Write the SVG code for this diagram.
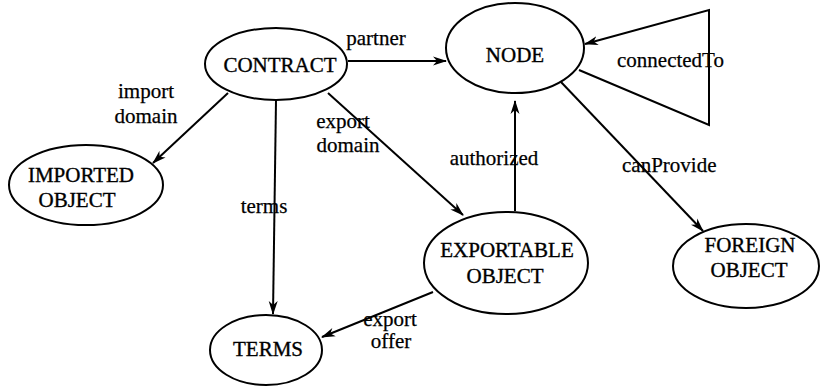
<svg xmlns="http://www.w3.org/2000/svg" width="822" height="386" viewBox="0 0 822 386">
  <style>
    text { font-family: 'Liberation Serif', 'DejaVu Serif', serif; font-size: 21px; fill: #000; stroke: #000; }
    .node ellipse { fill: #fff; stroke: #000; stroke-width: 2; }
    .node text { text-anchor: middle; stroke-width: 0.35; }
    .edge { fill: none; stroke: #000; stroke-width: 2; }
    .label { stroke-width: 0.25; }
  </style>
  <defs>
    <marker id="arrow" viewBox="0 0 14 10" refX="13" refY="5" markerWidth="14" markerHeight="10" markerUnits="userSpaceOnUse" orient="auto">
      <path d="M0,0.5 L14,5 L0,9.5 L4,5 Z" fill="#000"/>
    </marker>
  </defs>
  <rect width="822" height="386" fill="#fff"/>

  <!-- connectors and their labels -->
  <g id="connectors">
    <line class="edge" x1="348" y1="61" x2="446" y2="61" marker-end="url(#arrow)"/>
    <line class="edge" x1="228" y1="93" x2="153" y2="163" marker-end="url(#arrow)"/>
    <line class="edge" x1="276" y1="100" x2="273" y2="314" marker-end="url(#arrow)"/>
    <line class="edge" x1="328" y1="93" x2="463" y2="215" marker-end="url(#arrow)"/>
    <line class="edge" x1="515" y1="211" x2="515" y2="101" marker-end="url(#arrow)"/>
    <line class="edge" x1="433" y1="292" x2="322" y2="337" marker-end="url(#arrow)"/>
    <line class="edge" x1="561" y1="82" x2="703" y2="231" marker-end="url(#arrow)"/>
    <polyline class="edge" points="579,70 709,125 709,10 585,44" marker-end="url(#arrow)"/>

    <text class="label" x="376" y="45" text-anchor="middle">partner</text>
    <text class="label" x="146" y="98" text-anchor="middle">import</text>
    <text class="label" x="146" y="123" text-anchor="middle">domain</text>
    <text class="label" x="264" y="213" text-anchor="middle">terms</text>
    <text class="label" x="343" y="128" text-anchor="middle">export</text>
    <text class="label" x="348" y="152" text-anchor="middle">domain</text>
    <text class="label" x="494" y="165" text-anchor="middle">authorized</text>
    <text class="label" x="390" y="326" text-anchor="middle">export</text>
    <text class="label" x="391" y="348" text-anchor="middle">offer</text>
    <text class="label" x="617" y="67">connectedTo</text>
    <text class="label" x="622" y="172">canProvide</text>
  </g>

  <g id="contract" class="node">
    <ellipse cx="276" cy="64" rx="71" ry="36"/>
    <text x="280" y="72">CONTRACT</text>
  </g>
  <g id="node" class="node">
    <ellipse cx="515" cy="48" rx="69" ry="45"/>
    <text x="515" y="62">NODE</text>
  </g>
  <g id="imported-object" class="node">
    <ellipse cx="86" cy="185" rx="77" ry="40"/>
    <text x="81" y="182">IMPORTED</text>
    <text x="77" y="207">OBJECT</text>
  </g>
  <g id="exportable-object" class="node">
    <ellipse cx="506" cy="263" rx="82" ry="51"/>
    <text x="507" y="257">EXPORTABLE</text>
    <text x="505" y="283">OBJECT</text>
  </g>
  <g id="terms" class="node">
    <ellipse cx="266" cy="350" rx="56" ry="35"/>
    <text x="268" y="356">TERMS</text>
  </g>
  <g id="foreign-object" class="node">
    <ellipse cx="746" cy="266" rx="73" ry="42"/>
    <text x="750" y="252">FOREIGN</text>
    <text x="749" y="277">OBJECT</text>
  </g>
</svg>
